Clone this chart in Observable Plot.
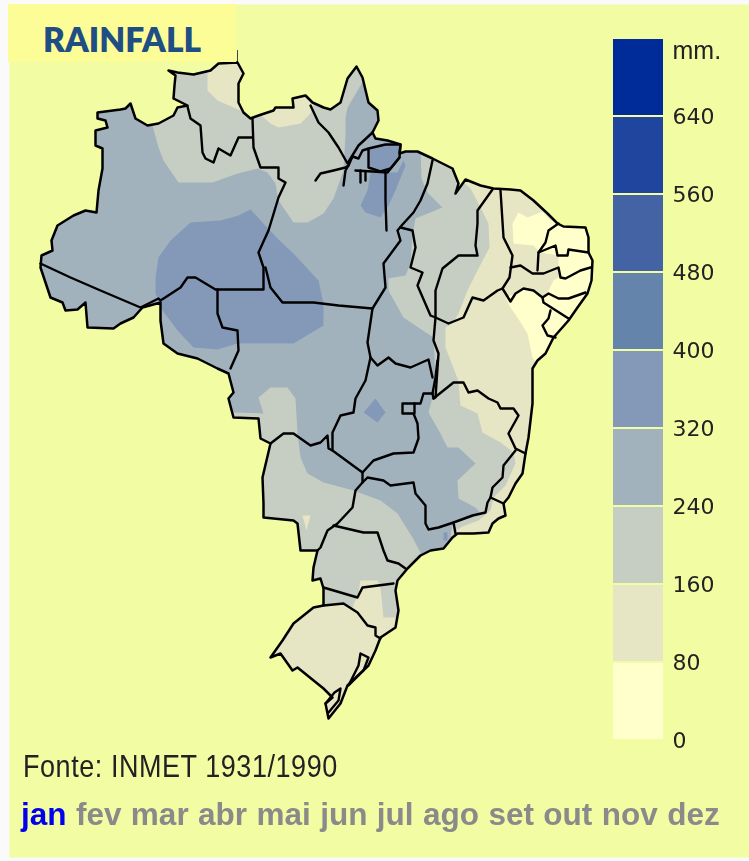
<!DOCTYPE html>
<html><head><meta charset="utf-8">
<script src="https://cdn.jsdelivr.net/npm/d3@7"></script>
<script src="https://cdn.jsdelivr.net/npm/@observablehq/plot@0.6"></script>
<style>
html,body{margin:0;padding:0;background:#fafafa;}
#page{position:relative;width:749px;height:861px;overflow:hidden;}
#page svg{position:absolute;left:0;top:0;}
#title{position:absolute;left:8px;top:4px;width:228px;height:58px;background:#fdfd98;color:#1f4e85;font:800 33.5px Lato,sans-serif;line-height:70px;text-align:center;box-sizing:border-box;}
#source{position:absolute;left:23px;top:750px;font:27px "Liberation Sans",sans-serif;color:#222;letter-spacing:.55px;white-space:nowrap;filter:blur(.4px);transform:scale(1,1.14);transform-origin:left top;}
#months{position:absolute;left:21px;top:796px;font:700 31.5px "Liberation Sans",sans-serif;color:#8a8a8a;word-spacing:.65px;white-space:nowrap;filter:blur(.4px);}
#months b{color:#0000ee;}
</style></head><body>
<div id="page">
  <div id="map"></div>
  <div id="legend"></div>
  <div id="title">RAINFALL</div>
  <div id="source">Fonte: INMET 1931/1990</div>
  <div id="months"></div>
</div>
<script>
// Values. Map geometry is in the picture's own map units.
const months = ["jan","fev","mar","abr","mai","jun","jul","ago","set","out","nov","dez"];
const binEdges = [0,80,160,240,320,400,480,560,640,720];
const tickValues = [0,80,160,240,320,400,480,560,640];
const binColors = ["#ffffcc","#e6e6c4","#c6cdc3","#a2b2bd","#8499b8","#6484ac","#4363a5","#1f459e","#002c99"];

const outline = [[40,267],[41,255],[52,250],[51,240],[57,225],[73,215],[85,210],[96,212],[98,190],[102,168],[102,148],[95,145],[95,130],[107,127],[105,120],[97,118],[97,112],[120,109],[125,108],[130,103],[135,118],[147,125],[158,123],[173,115],[177,107],[187,105],[173,98],[174,85],[175,75],[168,70],[177,72],[193,74],[210,70],[218,63],[237,62],[243,73],[238,83],[238,102],[243,112],[250,118],[258,115],[273,110],[275,107],[293,107],[292,98],[305,95],[312,102],[323,107],[330,109],[340,102],[347,78],[356,66],[362,77],[368,102],[377,110],[378,120],[372,132],[375,138],[387,140],[400,144],[399,153],[405,151],[417,151],[432,158],[452,168],[458,183],[455,193],[465,179],[480,185],[493,188],[510,189],[520,190],[533,200],[547,213],[557,223],[563,226],[585,227],[588,237],[588,252],[592,260],[591,280],[587,293],[577,307],[568,320],[553,337],[545,353],[537,360],[532,368],[532,403],[528,437],[525,453],[522,473],[515,483],[508,497],[503,503],[505,515],[498,518],[492,523],[488,532],[473,533],[457,533],[452,537],[443,548],[430,550],[420,555],[407,568],[397,580],[395,590],[398,610],[395,627],[380,637],[375,650],[368,665],[347,685],[340,703],[328,718],[325,703],[332,697],[323,688],[297,667],[292,670],[280,653],[270,657],[282,640],[293,623],[313,607],[323,605],[323,588],[320,578],[312,580],[313,567],[317,550],[300,550],[297,523],[293,520],[263,517],[263,503],[262,477],[270,443],[260,438],[258,418],[233,417],[228,398],[233,392],[228,373],[217,368],[197,358],[177,353],[163,343],[160,320],[160,302],[142,307],[133,317],[120,323],[113,328],[87,327],[85,302],[77,309],[65,310],[62,302],[50,297]];

const frame = [[9,267],[9,4],[749,4],[749,857],[9,857],[9,267]];

// Rainfall bands, painted in this order: [mm, ring]
const band160North = [[140,95],[147,120],[152,125],[158,147],[163,160],[178,182],[212,182],[237,173],[257,168],[267,172],[275,183],[278,200],[293,222],[307,222],[323,213],[333,198],[343,170],[345,133],[345,117],[347,107],[363,80],[358,55],[140,55]];
const band160East = [[420,145],[421,178],[427,192],[442,207],[415,218],[412,235],[410,263],[405,275],[388,278],[388,290],[403,317],[433,337],[435,377],[432,397],[428,412],[440,433],[447,447],[458,447],[475,463],[457,480],[458,498],[475,507],[480,513],[472,517],[452,523],[450,536],[530,540],[530,145]];
const band160South = [[225,412],[233,412],[263,413],[258,397],[270,387],[287,387],[295,398],[297,433],[300,457],[307,473],[323,482],[353,490],[380,500],[397,513],[412,537],[420,552],[430,600],[420,740],[220,740]];
const band80East = [[462,170],[463,182],[470,188],[480,207],[488,223],[489,247],[477,270],[467,290],[458,313],[452,323],[445,327],[445,347],[457,378],[458,382],[460,405],[477,413],[482,432],[500,442],[513,452],[515,463],[505,485],[493,497],[490,510],[478,520],[462,526],[456,530],[452,545],[620,560],[620,170]];
const band80South = [[250,590],[323,604],[343,602],[352,607],[358,592],[360,580],[377,580],[380,587],[383,617],[400,617],[410,640],[380,740],[250,740]];
const band80Roraima = [[207,55],[207,73],[207,90],[217,100],[240,110],[255,112],[255,55]];
const band80Para = [[255,110],[263,117],[270,123],[278,127],[300,123],[310,113],[315,98],[270,92]];
const band80Patch = [[302,515],[310,515],[306,530]];
const band0East = [[518,212],[527,217],[542,211],[550,220],[560,222],[605,220],[605,345],[545,375],[532,357],[527,333],[517,317],[510,307],[505,297],[515,293],[523,288],[533,290],[542,297],[548,290],[553,280],[558,277],[558,255],[540,252],[533,245],[513,243],[512,223]];
const band320West = [[155,277],[158,257],[170,240],[190,222],[220,220],[238,215],[250,209],[263,223],[277,238],[293,253],[318,280],[323,303],[323,325],[303,337],[293,343],[263,343],[237,343],[217,349],[193,347],[177,330],[162,310],[155,293]];
const band320Para = [[360,205],[367,190],[370,172],[397,172],[403,160],[405,165],[395,190],[388,205],[380,217],[365,212]];
const band320Marajo = [[368,148],[385,144],[400,144],[399,157],[390,168],[380,171],[368,167]];
const band320Goias = [[363,412],[375,398],[385,412],[377,422]];
const band320Coast = [[443,532],[447,532],[447,540],[443,540]];

const bands = [
  [280,outline],[200,band160North],[200,band160East],[200,band160South],
  [120,band80East],[120,band80South],[120,band80Roraima],[120,band80Para],[120,band80Patch],
  [40,band0East],
  [360,band320West],[360,band320Para],[360,band320Marajo],[360,band320Goias],[360,band320Coast]
];

// State borders and river lines
const borders = [
  [[40,263],[70,277],[100,290],[140,307],[158,298],[160,300],[180,287],[187,277],[195,277],[215,289],[263,289],[263,267],[258,252],[268,230],[278,197],[285,182],[278,178],[278,167],[260,167],[253,147],[252,118]],
  [[187,106],[190,118],[200,125],[202,152],[205,158],[213,162],[218,148],[230,155],[238,137],[252,137]],
  [[310,105],[318,122],[328,132],[338,147],[347,163],[358,145],[372,132]],
  [[315,180],[320,173],[333,170],[345,167],[348,165],[352,156],[358,158],[362,150],[368,148],[385,144],[400,144],[399,157],[390,168],[380,171],[368,167],[368,148]],
  [[343,185],[345,170],[348,165]],
  [[355,170],[372,171],[387,172],[399,157]],
  [[360,170],[360,182]],[[365,171],[365,180]],
  [[385,172],[385,200],[386,230]],
  [[265,267],[270,287],[282,302],[313,302],[338,305],[372,308],[385,287],[383,263],[400,240],[397,230],[402,224],[413,212],[420,200],[427,183],[432,160]],
  [[400,227],[412,230],[415,247],[410,267],[422,272],[417,285],[430,315],[435,317],[448,323],[463,317],[472,297],[483,300],[497,290],[502,288]],
  [[492,189],[477,210],[477,223],[475,245],[477,255],[458,255],[442,268],[435,290],[435,317],[433,340],[438,353],[435,397],[433,398]],
  [[500,190],[503,237],[512,255],[509,277],[502,288],[510,301],[515,293],[523,288],[533,290],[542,297],[548,293],[558,298],[568,298],[585,292]],
  [[510,267],[520,265],[532,273],[543,273],[558,267],[560,277],[565,278],[580,270],[590,267]],
  [[558,223],[548,230],[545,242],[538,252],[537,270]],
  [[538,252],[555,245],[557,255],[567,255],[568,249],[588,252]],
  [[542,297],[543,302],[568,318]],
  [[550,310],[548,318],[542,325],[547,335],[555,337]],
  [[372,308],[367,342],[370,357],[377,365],[388,357],[395,363],[410,367],[428,359],[432,377]],
  [[370,357],[365,380],[355,398],[353,412],[340,415],[332,432],[332,450],[362,472],[362,482],[355,490],[352,507],[337,523],[327,530],[320,547],[317,550]],
  [[270,443],[283,433],[293,433],[310,445],[320,442],[327,435],[328,448],[332,450]],
  [[217,289],[217,313],[222,327],[237,330],[238,350],[230,368]],
  [[362,472],[373,460],[393,453],[413,452],[418,438],[417,423],[413,413],[402,413],[402,403],[414,403],[414,413]],
  [[414,403],[420,403],[423,393],[432,393],[433,398],[453,382],[463,382],[468,392],[477,390],[488,398],[497,402],[500,408],[513,408],[518,415],[508,433],[515,448],[525,453]],
  [[515,450],[503,465],[502,477],[492,487],[490,497],[487,502],[485,512],[472,515],[453,522],[438,527],[428,529],[425,523],[425,505],[415,493],[413,482],[390,485],[383,480],[367,477],[362,482]],
  [[490,497],[503,503]],
  [[453,522],[455,533]],
  [[333,525],[363,532],[377,532],[383,550],[387,560],[398,563],[405,568]],
  [[323,587],[357,597],[362,587],[393,583]],
  [[323,605],[343,603],[357,612],[367,625],[375,627],[375,635],[380,638]],
  [[360,653],[368,657],[363,670],[348,685],[358,665],[360,653]],
  [[325,703],[334,692],[340,688],[338,700],[328,712]],
  [[437,360],[435,377],[432,393]]
];
const hairline = [[237,50],[237,62]];

const toRows = (pts) => pts.map(([x,y]) => ({x,y}));
const bandRows = bands.flatMap(([mm, ring], id) => ring.map(([x,y]) => ({id, mm, x, y})));
const borderRows = borders.flatMap((line, id) => line.map(([x,y]) => ({id, x, y})));
const maskRows = toRows([...frame, outline[0], ...outline.slice(1).reverse(), outline[0]]);

const map = Plot.plot({
  width: 749, height: 861, margin: 0,
  style: {background: "transparent", filter: "blur(.45px)"},
  x: {domain: [0,749], range: [0,749], axis: null},
  y: {domain: [0,861], range: [0,861], axis: null},
  color: {type: "threshold", domain: binEdges.slice(1,-1), range: binColors},
  marks: [
    Plot.line(bandRows, {x:"x", y:"y", z:"id", fill:"mm", stroke:null}),
    Plot.line(maskRows, {x:"x", y:"y", fill:"#f2fca2", stroke:null}),
    Plot.line(toRows(hairline), {x:"x", y:"y", stroke:"#444", strokeWidth:1}),
    Plot.line(borderRows, {x:"x", y:"y", z:"id", stroke:"#000", strokeWidth:2.4, strokeLinejoin:"round"}),
    Plot.line(toRows([...outline, outline[0]]), {x:"x", y:"y", stroke:"#000", strokeWidth:2.5, strokeLinejoin:"round"})
  ]
});
document.getElementById("map").append(map);

const binRows = binColors.map((color,i) => ({lo:binEdges[i], hi:binEdges[i+1], color}));
const legend = Plot.plot({
  width: 749, height: 861, margin: 0,
  style: {background: "transparent", filter: "blur(.35px)"},
  x: {domain: [0,1], range: [613,663], axis: null},
  y: {domain: [0,720], range: [740,38], axis: null},
  marks: [
    Plot.rect(binRows, {x1:0, x2:1, y1:"lo", y2:"hi", fill:"color", insetTop:1, insetBottom:1}),
    Plot.text(tickValues, {x:1, y:d=>d, dx:9, text:d=>String(d), textAnchor:"start", fontFamily:"DejaVu Sans", fontSize:22, fill:"#222", style:{letterSpacing:"2px"}}),
    Plot.text(["mm."], {x:1, y:()=>720, dx:9, dy:12, textAnchor:"start", fontFamily:"Liberation Sans", fontSize:25, fill:"#222"})
  ]
});
document.getElementById("legend").append(legend);

const monthsEl = document.getElementById("months");
months.forEach((m,i) => {
  const el = document.createElement(i === 0 ? "b" : "span");
  el.textContent = m;
  monthsEl.append(el, " ");
});
</script>
</body></html>
